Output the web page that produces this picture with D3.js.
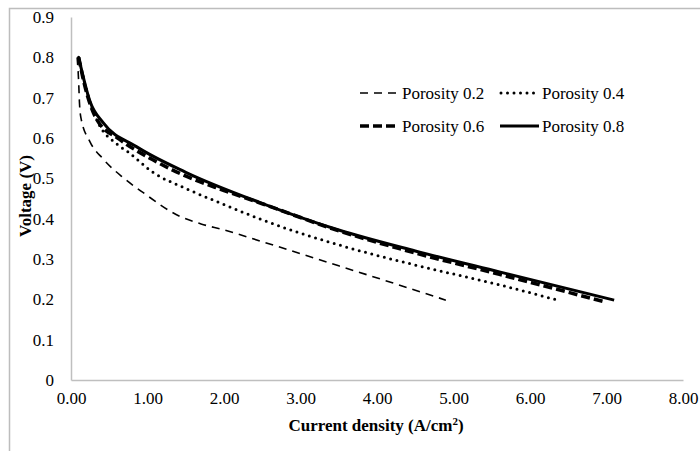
<!DOCTYPE html>
<html>
<head>
<meta charset="utf-8">
<script src="https://cdn.jsdelivr.net/npm/d3@7"></script>
<style>
  body { margin: 0; background: #fff; }
  svg text { font-family: "Liberation Serif", "Times New Roman", Times, serif; fill: #000; }
</style>
</head>
<body>
<div id="chart"></div>
<script>
// current density (A/cm2) and voltage (V) per porosity
var p02x = [0.08, 0.10, 0.11, 0.13, 0.25, 0.42, 0.68, 0.94, 1.42, 1.70, 2.00, 2.50, 3.50, 4.20, 4.90];
var p02y = [0.80, 0.74, 0.69, 0.65, 0.59, 0.548, 0.502, 0.465, 0.406, 0.387, 0.372, 0.343, 0.283, 0.241, 0.198];

var p04x = [0.10, 0.20, 0.35, 0.60, 0.75, 1.07, 1.50, 2.00, 2.50, 3.50, 4.50, 5.60, 6.38];
var p04y = [0.80, 0.72, 0.64, 0.585, 0.565, 0.515, 0.475, 0.435, 0.397, 0.335, 0.285, 0.236, 0.197];

var p06x = [0.10, 0.18, 0.34, 0.64, 1.07, 1.52, 2.00, 2.50, 3.50, 4.50, 5.60, 6.95];
var p06y = [0.80, 0.73, 0.645, 0.596, 0.546, 0.504, 0.470, 0.437, 0.370, 0.315, 0.262, 0.195];

var p08x = [0.10, 0.25, 0.42, 0.86, 1.50, 2.47, 3.50, 4.50, 5.60, 7.10];
var p08y = [0.80, 0.69, 0.638, 0.578, 0.515, 0.440, 0.372, 0.320, 0.268, 0.198];

var seriesNames = ["Porosity 0.2", "Porosity 0.4", "Porosity 0.6", "Porosity 0.8"];
var xTicks = [0, 1, 2, 3, 4, 5, 6, 7, 8];
var yTicks = [0, 0.1, 0.2, 0.3, 0.4, 0.5, 0.6, 0.7, 0.8, 0.9];

var serif = "'Liberation Serif', 'Times New Roman', serif";
var width = 700, height = 451;
var margin = {top: 17, right: 17, bottom: 71, left: 71};

var svg = d3.select("#chart").append("svg")
    .attr("width", width)
    .attr("height", height)
    .attr("font-family", serif);

// outer chart frame
svg.append("rect")
    .attr("x", 9.5).attr("y", 8.5)
    .attr("width", 720).attr("height", 460)
    .style("fill", "none")
    .style("stroke", "#bdbdbd")
    .style("stroke-width", 1.5);

var x = d3.scaleLinear().domain([0, 8]).range([margin.left, width - margin.right]);
var y = d3.scaleLinear().domain([0, 0.9]).range([height - margin.bottom, margin.top]);

svg.append("g")
    .attr("transform", "translate(0," + y(0) + ")")
    .call(d3.axisBottom(x).tickValues(xTicks).tickSize(0).tickPadding(12)
        .tickFormat(d3.format(".2f")));

svg.append("g")
    .attr("transform", "translate(" + x(0) + ",0)")
    .call(d3.axisLeft(y).tickValues(yTicks).tickSize(0).tickPadding(17)
        .tickFormat(function(d) { return d === 0 ? "0" : d3.format(".1f")(d); }));

svg.selectAll("g").attr("font-family", serif).attr("font-size", null);
svg.selectAll(".domain").style("stroke", "#bfbfbf").style("stroke-width", 1.5);
svg.selectAll(".tick text")
    .style("font-size", "17px")
    .style("font-family", serif);

svg.append("text")
    .attr("x", (x(0) + x(8)) / 2 - 1)
    .attr("y", 431)
    .attr("text-anchor", "middle")
    .style("font-family", serif)
    .style("font-size", "17px")
    .style("font-weight", "bold")
    .text("Current density (A/cm")
    .append("tspan").attr("dy", -6).style("font-size", "11px").text("2")
    .select(function() { return this.parentNode; })
    .append("tspan").attr("dy", 6).text(")");

svg.append("text")
    .attr("transform", "translate(31,196) rotate(-90)")
    .attr("text-anchor", "middle")
    .style("font-family", serif)
    .style("font-size", "17px")
    .style("font-weight", "bold")
    .text("Voltage (V)");

var styles = [
    {dash: "8,6", w: 1.6, cap: "butt"},
    {dash: "0,6.5", w: 3, cap: "round"},
    {dash: "9,4", w: 3.6, cap: "butt"},
    {dash: null, w: 3, cap: "butt"}
];

var series = [
    d3.zip(p02x, p02y),
    d3.zip(p04x, p04y),
    d3.zip(p06x, p06y),
    d3.zip(p08x, p08y)
];

var line = d3.line()
    .x(function(d) { return x(d[0]); })
    .y(function(d) { return y(d[1]); })
    .curve(d3.curveMonotoneX);

svg.append("g").selectAll("path")
    .data(series)
    .enter().append("path")
    .attr("d", line)
    .style("fill", "none")
    .style("stroke", "#000")
    .style("stroke-width", function(d, i) { return styles[i].w; })
    .style("stroke-dasharray", function(d, i) { return styles[i].dash; })
    .style("stroke-linecap", function(d, i) { return styles[i].cap; });

// legend, two rows of two
var legend = svg.append("g")
    .selectAll("g")
    .data(seriesNames)
    .enter().append("g")
    .attr("transform", function(d, i) {
        return "translate(" + (360 + (i % 2) * 140) + "," + (93 + Math.floor(i / 2) * 33) + ")";
    });

legend.append("line")
    .attr("x1", function(d, i) { return i === 1 ? 1 : 0; })
    .attr("x2", 39)
    .style("stroke", "#000")
    .style("stroke-width", function(d, i) { return styles[i].w; })
    .style("stroke-dasharray", function(d, i) { return styles[i].dash; })
    .style("stroke-linecap", function(d, i) { return styles[i].cap; });

legend.append("text")
    .attr("x", 42)
    .attr("dy", ".35em")
    .style("font-family", serif)
    .style("font-size", "17px")
    .text(function(d) { return d; });
</script>
</body>
</html>
